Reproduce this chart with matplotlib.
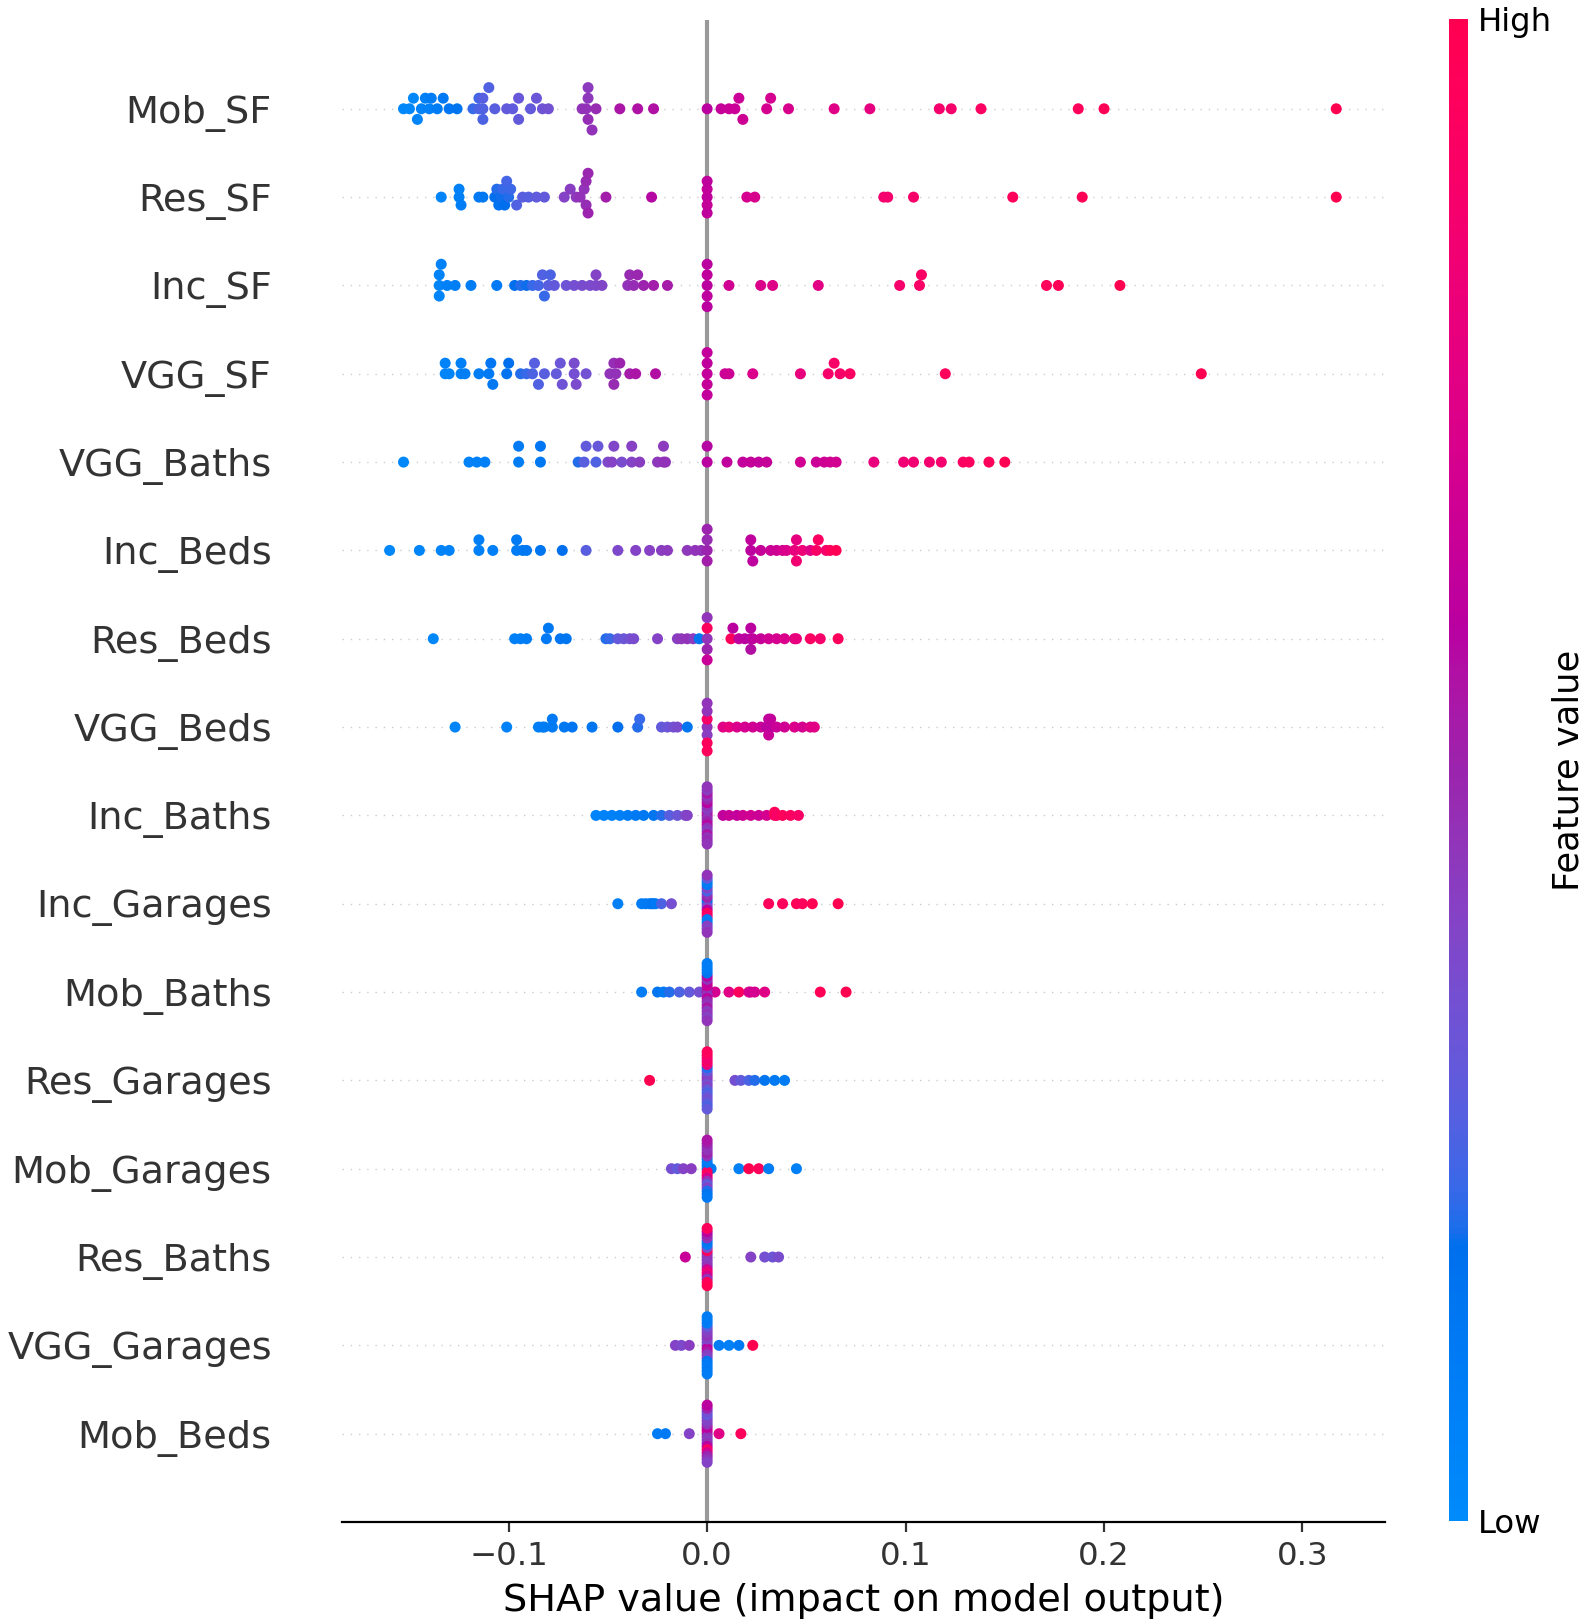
import numpy as np
import matplotlib
matplotlib.use("Agg")
import matplotlib.pyplot as plt
from matplotlib.colors import LinearSegmentedColormap
from matplotlib import cm

# Feature order, top row first
features = ["Mob_SF", "Res_SF", "Inc_SF", "VGG_SF", "VGG_Baths", "Inc_Beds",
            "Res_Beds", "VGG_Beds", "Inc_Baths", "Inc_Garages", "Mob_Baths",
            "Res_Garages", "Mob_Garages", "Res_Baths", "VGG_Garages", "Mob_Beds"]

# SHAP values (off the zero column) and their normalised feature values
mob_sf_shap = [-0.153, -0.150, -0.148, -0.146, -0.144, -0.142, -0.140, -0.139,
               -0.136, -0.133, -0.130, -0.126,
               -0.118, -0.115, -0.115, -0.113, -0.113, -0.113, -0.110, -0.107,
               -0.101, -0.098, -0.095, -0.095, -0.089, -0.086, -0.083, -0.080,
               -0.063, -0.061, -0.060, -0.060, -0.060, -0.058, -0.056,
               -0.044, -0.035, -0.027,
               0.000, 0.007, 0.011, 0.014, 0.016, 0.018, 0.030, 0.032, 0.041,
               0.064, 0.082, 0.117, 0.123, 0.138, 0.187, 0.200, 0.317]
mob_sf_feat = [0.02, 0.03, 0.02, 0.05, 0.06, 0.08, 0.07, 0.10,
               0.10, 0.12, 0.14, 0.15,
               0.22, 0.25, 0.24, 0.26, 0.27, 0.25, 0.26, 0.28,
               0.30, 0.29, 0.31, 0.30, 0.30, 0.32, 0.33, 0.34,
               0.45, 0.46, 0.44, 0.47, 0.43, 0.46, 0.48,
               0.55, 0.56, 0.56,
               0.60, 0.64, 0.65, 0.66, 0.66, 0.67, 0.70, 0.70, 0.71,
               0.75, 0.78, 0.88, 0.88, 0.92, 0.96, 0.97, 1.00]
mob_sf_zero = []

res_sf_shap = [-0.134, -0.125, -0.125, -0.124, -0.115, -0.113,
               -0.107, -0.106, -0.105, -0.104, -0.103, -0.102, -0.101, -0.100, -0.099,
               -0.096, -0.093, -0.090, -0.086, -0.082,
               -0.072, -0.069, -0.066, -0.064, -0.062, -0.061, -0.061, -0.060, -0.060,
               -0.051, -0.028,
               0.020, 0.024, 0.089, 0.091, 0.104, 0.154, 0.189, 0.317]
res_sf_feat = [0.05, 0.08, 0.07, 0.09, 0.12, 0.13,
               0.18, 0.20, 0.16, 0.19, 0.22, 0.18, 0.24, 0.20, 0.23,
               0.26, 0.28, 0.27, 0.29, 0.30,
               0.40, 0.42, 0.44, 0.46, 0.45, 0.47, 0.48, 0.50, 0.49,
               0.52, 0.58,
               0.70, 0.71, 0.86, 0.87, 0.89, 0.95, 0.97, 1.00]
res_sf_zero = [0.62, 0.63, 0.62, 0.64, 0.62]

inc_sf_shap = [-0.135, -0.135, -0.135, -0.134, -0.131, -0.127, -0.119, -0.106,
               -0.097, -0.094, -0.091, -0.088, -0.085, -0.083, -0.082, -0.080, -0.079, -0.077,
               -0.071, -0.067, -0.063, -0.059, -0.056, -0.056, -0.053,
               -0.040, -0.039, -0.037, -0.035, -0.032, -0.027, -0.020,
               0.011, 0.027, 0.033, 0.056, 0.097, 0.107, 0.108, 0.171, 0.177, 0.208]
inc_sf_feat = [0.04, 0.06, 0.05, 0.07, 0.08, 0.09, 0.10, 0.12,
               0.18, 0.20, 0.19, 0.22, 0.24, 0.26, 0.22, 0.28, 0.25, 0.30,
               0.33, 0.35, 0.36, 0.37, 0.38, 0.40, 0.39,
               0.46, 0.48, 0.47, 0.49, 0.50, 0.52, 0.53,
               0.68, 0.73, 0.74, 0.76, 0.88, 0.90, 0.91, 0.96, 0.97, 1.00]
inc_sf_zero = [0.60, 0.62, 0.60, 0.61, 0.60]

vgg_sf_shap = [-0.132, -0.132, -0.130, -0.124, -0.124, -0.122, -0.115, -0.110, -0.109, -0.108,
               -0.101, -0.100, -0.094, -0.091, -0.088, -0.087, -0.085, -0.082,
               -0.076, -0.074, -0.073, -0.067, -0.067, -0.066, -0.061,
               -0.049, -0.047, -0.047, -0.046, -0.044, -0.039, -0.036, -0.026,
               0.009, 0.011, 0.023, 0.047, 0.061, 0.064, 0.067, 0.072, 0.120, 0.249]
vgg_sf_feat = [0.04, 0.06, 0.05, 0.07, 0.08, 0.09, 0.10, 0.12, 0.14, 0.13,
               0.16, 0.18, 0.20, 0.22, 0.25, 0.27, 0.26, 0.28,
               0.30, 0.32, 0.33, 0.35, 0.36, 0.37, 0.34,
               0.45, 0.47, 0.48, 0.46, 0.50, 0.53, 0.55, 0.57,
               0.66, 0.67, 0.72, 0.80, 0.88, 0.90, 0.89, 0.92, 0.96, 1.00]
vgg_sf_zero = [0.63, 0.62, 0.63, 0.64, 0.63]

vgg_baths_shap = [-0.153, -0.120, -0.116, -0.112, -0.095, -0.095, -0.084, -0.084,
                  -0.065, -0.062, -0.061, -0.056, -0.055, -0.050, -0.048, -0.047,
                  -0.043, -0.038, -0.038, -0.034, -0.025, -0.022, -0.022, -0.021,
                  0.010, 0.018, 0.022, 0.026, 0.030, 0.047, 0.055, 0.059, 0.062, 0.065,
                  0.084, 0.099, 0.104, 0.112, 0.118, 0.129, 0.132, 0.142, 0.150]
vgg_baths_feat = [0.03, 0.06, 0.07, 0.08, 0.10, 0.11, 0.13, 0.14,
                  0.20, 0.28, 0.30, 0.26, 0.31, 0.38, 0.40, 0.39,
                  0.36, 0.40, 0.41, 0.42, 0.44, 0.45, 0.43, 0.46,
                  0.62, 0.63, 0.64, 0.63, 0.64, 0.68, 0.66, 0.67, 0.68, 0.69,
                  0.80, 0.84, 0.85, 0.86, 0.87, 0.92, 0.93, 0.96, 0.98]
vgg_baths_zero = [0.58, 0.60]

inc_beds_shap = [-0.160, -0.145, -0.134, -0.130, -0.115, -0.115, -0.108, -0.096, -0.096,
                 -0.093, -0.091, -0.084, -0.073, -0.061,
                 -0.045, -0.036, -0.029, -0.023, -0.020, -0.010, -0.006, -0.003,
                 0.022, 0.022, 0.023, 0.027, 0.032, 0.035, 0.038, 0.040, 0.044,
                 0.045, 0.045, 0.048, 0.052, 0.055, 0.056, 0.060, 0.062, 0.065]
inc_beds_feat = [0.02, 0.04, 0.05, 0.06, 0.08, 0.09, 0.08, 0.10, 0.11,
                 0.12, 0.13, 0.15, 0.18, 0.28,
                 0.38, 0.40, 0.41, 0.42, 0.43, 0.44, 0.45, 0.46,
                 0.60, 0.62, 0.61, 0.64, 0.66, 0.67, 0.70, 0.72, 0.80,
                 0.78, 0.85, 0.82, 0.75, 0.90, 0.92, 0.88, 0.95, 0.98]
inc_beds_zero = [0.50, 0.48, 0.50, 0.52]

res_beds_shap = [-0.138, -0.097, -0.094, -0.091, -0.081, -0.080, -0.074, -0.071, -0.051, -0.049,
                 -0.045, -0.042, -0.039, -0.037, -0.025, -0.015, -0.013, -0.010, -0.007, -0.004,
                 0.012, 0.013, 0.016, 0.019, 0.022, 0.022, 0.022, 0.023, 0.027,
                 0.031, 0.035, 0.039, 0.044, 0.045, 0.052, 0.057, 0.066]
res_beds_feat = [0.03, 0.08, 0.09, 0.10, 0.12, 0.13, 0.14, 0.15, 0.20, 0.22,
                 0.30, 0.32, 0.34, 0.36, 0.40, 0.42, 0.44, 0.45, 0.43, 0.15,
                 0.95, 0.60, 0.62, 0.60, 0.58, 0.60, 0.57, 0.62, 0.64,
                 0.68, 0.70, 0.72, 0.75, 0.80, 0.92, 0.88, 0.95]
res_beds_zero = [0.45, 0.95, 0.45, 0.50, 0.65]

vgg_beds_shap = [-0.127, -0.101, -0.085, -0.083, -0.082, -0.078, -0.078, -0.072, -0.068,
                 -0.058, -0.045, -0.035, -0.034, -0.023, -0.020, -0.017, -0.015, -0.010,
                 0.008, 0.011, 0.015, 0.019, 0.023, 0.027, 0.030, 0.031, 0.031,
                 0.032, 0.032, 0.035, 0.039, 0.044, 0.048, 0.052, 0.054]
vgg_beds_feat = [0.04, 0.06, 0.08, 0.09, 0.10, 0.11, 0.12, 0.13, 0.14,
                 0.15, 0.18, 0.20, 0.22, 0.30, 0.32, 0.34, 0.36, 0.15,
                 0.75, 0.80, 0.72, 0.70, 0.68, 0.66, 0.60, 0.62, 0.65,
                 0.61, 0.63, 0.66, 0.68, 0.72, 0.70, 0.74, 0.76]
vgg_beds_zero = [0.45, 0.45, 0.90, 0.45, 0.42, 0.95, 0.95]

inc_baths_shap = [-0.056, -0.052, -0.048, -0.044, -0.040, -0.036, -0.032, -0.027,
                  -0.023, -0.019, -0.015, -0.011, -0.010,
                  0.008, 0.011, 0.015, 0.018, 0.022, 0.026, 0.030, 0.034, 0.034,
                  0.035, 0.038, 0.042, 0.046]
inc_baths_feat = [0.05, 0.06, 0.07, 0.08, 0.10, 0.12, 0.13, 0.15,
                  0.20, 0.28, 0.32, 0.38, 0.40,
                  0.62, 0.65, 0.63, 0.67, 0.68, 0.66, 0.70, 0.92, 0.95,
                  0.90, 0.96, 0.93, 0.90]
inc_baths_zero = [0.45, 0.42, 0.55, 0.45, 0.50, 0.60, 0.45, 0.42, 0.55, 0.62,
                  0.45, 0.50, 0.58, 0.45, 0.42, 0.55, 0.45, 0.48, 0.45]

inc_garages_shap = [-0.045, -0.033, -0.031, -0.029, -0.028, -0.027, -0.026, -0.023, -0.018,
                    0.031, 0.038, 0.045, 0.048, 0.053, 0.066]
inc_garages_feat = [0.08, 0.10, 0.12, 0.11, 0.13, 0.14, 0.12, 0.25, 0.35,
                    0.95, 0.96, 0.97, 0.95, 0.98, 1.00]
inc_garages_zero = [0.45, 0.30, 0.10, 0.12, 0.40, 0.25, 0.45, 0.50, 0.15, 0.40,
                    0.35, 0.60, 0.95, 0.90, 0.10, 0.12, 0.42, 0.40, 0.45]

mob_baths_shap = [-0.033, -0.025, -0.022, -0.019, -0.014, -0.009, -0.004,
                  0.004, 0.011, 0.016, 0.021, 0.022, 0.024, 0.029, 0.057, 0.070]
mob_baths_feat = [0.10, 0.15, 0.12, 0.20, 0.25, 0.30, 0.35,
                  0.70, 0.75, 0.95, 0.72, 0.68, 0.70, 0.75, 0.97, 1.00]
mob_baths_zero = [0.10, 0.10, 0.12, 0.15, 0.60, 0.45, 0.62, 0.65, 0.50, 0.60,
                  0.45, 0.60, 0.48, 0.45, 0.55, 0.42, 0.45, 0.40, 0.45]

res_garages_shap = [-0.029, 0.014, 0.017, 0.021, 0.024, 0.029, 0.034, 0.039]
res_garages_feat = [1.00, 0.35, 0.30, 0.25, 0.20, 0.15, 0.12, 0.10]
res_garages_zero = [0.95, 0.90, 0.85, 0.90, 0.80, 0.20, 0.30, 0.40, 0.45, 0.42,
                    0.35, 0.40, 0.30, 0.25, 0.30, 0.35, 0.30, 0.25, 0.30]

mob_garages_shap = [-0.018, -0.015, -0.012, -0.008, 0.002, 0.016, 0.021, 0.026, 0.031, 0.045]
mob_garages_feat = [0.35, 0.30, 0.40, 0.42, 0.10, 0.08, 1.00, 0.95, 0.10, 0.08]
mob_garages_zero = [0.55, 0.50, 0.45, 0.45, 0.50, 0.45, 0.10, 0.12, 0.10, 0.15,
                    0.90, 0.95, 0.70, 0.45, 0.30, 0.40, 0.20, 0.15, 0.12]

res_baths_shap = [-0.011, 0.022, 0.029, 0.033, 0.036]
res_baths_feat = [0.65, 0.40, 0.35, 0.33, 0.36]
res_baths_zero = [0.95, 0.60, 0.50, 0.45, 0.15, 0.12, 0.35, 0.95, 0.45, 0.40,
                  0.45, 0.42, 0.45, 0.70, 0.85, 0.70, 0.45, 0.95, 1.00]

vgg_garages_shap = [-0.016, -0.013, -0.009, 0.006, 0.011, 0.016, 0.023]
vgg_garages_feat = [0.40, 0.38, 0.42, 0.10, 0.08, 0.12, 1.00]
vgg_garages_zero = [0.10, 0.12, 0.10, 0.30, 0.40, 0.42, 0.45, 0.40, 0.35, 0.45,
                    0.60, 0.55, 0.42, 0.40, 0.15, 0.12, 0.10, 0.12, 0.10]

mob_beds_shap = [-0.025, -0.021, -0.009, 0.006, 0.017]
mob_beds_feat = [0.10, 0.12, 0.40, 0.75, 0.95]
mob_beds_zero = [0.60, 0.50, 0.35, 0.30, 0.40, 0.40, 0.45, 0.60, 0.65, 0.50,
                 0.45, 0.42, 0.45, 0.60, 0.90, 0.70, 0.50, 0.45, 0.40]

rows = [
    (mob_sf_shap, mob_sf_feat, mob_sf_zero),
    (res_sf_shap, res_sf_feat, res_sf_zero),
    (inc_sf_shap, inc_sf_feat, inc_sf_zero),
    (vgg_sf_shap, vgg_sf_feat, vgg_sf_zero),
    (vgg_baths_shap, vgg_baths_feat, vgg_baths_zero),
    (inc_beds_shap, inc_beds_feat, inc_beds_zero),
    (res_beds_shap, res_beds_feat, res_beds_zero),
    (vgg_beds_shap, vgg_beds_feat, vgg_beds_zero),
    (inc_baths_shap, inc_baths_feat, inc_baths_zero),
    (inc_garages_shap, inc_garages_feat, inc_garages_zero),
    (mob_baths_shap, mob_baths_feat, mob_baths_zero),
    (res_garages_shap, res_garages_feat, res_garages_zero),
    (mob_garages_shap, mob_garages_feat, mob_garages_zero),
    (res_baths_shap, res_baths_feat, res_baths_zero),
    (vgg_garages_shap, vgg_garages_feat, vgg_garages_zero),
    (mob_beds_shap, mob_beds_feat, mob_beds_zero),
]


# shap's red_blue colormap, built in LCH space
def lch2rgb(l, c, h):
    a, b = c * np.cos(h), c * np.sin(h)
    fy = (l + 16.0) / 116.0
    fx = fy + a / 500.0
    fz = fy - b / 200.0
    def finv(t):
        return t ** 3 if t > 6.0 / 29.0 else 3 * (6.0 / 29.0) ** 2 * (t - 4.0 / 29.0)
    xyz = np.array([0.95047 * finv(fx), 1.0 * finv(fy), 1.08883 * max(finv(fz), 0)])
    m = np.array([[0.412453, 0.357580, 0.180423],
                  [0.212671, 0.715160, 0.072169],
                  [0.019334, 0.119193, 0.950227]])
    rgb = np.linalg.inv(m) @ xyz
    rgb = np.where(rgb > 0.0031308, 1.055 * np.abs(rgb) ** (1 / 2.4) - 0.055, 12.92 * rgb)
    return np.clip(rgb, 0, 1)


blue_lch = [54.0, 70.0, 4.6588]
red_lch = [54.0, 90.0, 0.35470565 + 2 * np.pi]
nsteps = 100
l_vals = list(np.linspace(blue_lch[0], 40.0, nsteps // 2)) + list(np.linspace(40.0, red_lch[0], nsteps // 2))
c_vals = np.linspace(blue_lch[1], red_lch[1], nsteps)
h_vals = np.linspace(blue_lch[2], red_lch[2], nsteps)
red_blue = LinearSegmentedColormap.from_list(
    "red_blue", [lch2rgb(l, c, h) for l, c, h in zip(l_vals, c_vals, h_vals)])


# zero column: colours are given top to bottom, put them in layer order
def column_order(top_to_bottom):
    n = len(top_to_bottom)
    offs = np.array([np.ceil(j / 2) * ((j % 2) * 2 - 1) for j in range(n)])
    rank = np.argsort(-offs, kind="stable")
    out = [0.0] * n
    for r, j in enumerate(rank):
        out[j] = top_to_bottom[r]
    return out


# beeswarm offsets as in shap's summary plot
def swarm(shaps, row_height=0.4, nbins=100):
    quant = np.round(nbins * (shaps - shaps.min()) / (shaps.max() - shaps.min() + 1e-8))
    ys = np.zeros(len(shaps))
    layer, last_bin = 0, -1
    for ind in np.argsort(quant, kind="stable"):
        if quant[ind] != last_bin:
            layer = 0
        ys[ind] = np.ceil(layer / 2) * ((layer % 2) * 2 - 1)
        layer += 1
        last_bin = quant[ind]
    ys *= 0.9 * (row_height / np.max(ys + 1))
    return ys


dpi = 198
fs = 1.07  # text in the reference is a bit larger than shap's defaults
fig = plt.figure(figsize=(1584 / dpi, 1624 / dpi), dpi=dpi)
ax = fig.add_axes([0.2159, 0.0628, 0.6585, 0.9246])
axis_color = "#333333"
n = len(features)

ax.axvline(x=0, color="#999999", zorder=-1)
for i, (sh, fv, zc) in enumerate(rows):
    pos = n - 1 - i
    ax.axhline(y=pos, color="#cccccc", lw=0.5, dashes=(1, 5), zorder=-1)
    shaps = np.array(list(sh) + [0.0] * len(zc))
    cvals = np.array(list(fv) + column_order(zc))
    ys = swarm(shaps)
    ax.scatter(shaps, pos + ys, c=cvals, cmap=red_blue, vmin=0, vmax=1,
               s=16, linewidth=0, zorder=3)

ax.set_xlim(-0.184, 0.3416)
ax.set_ylim(-1, n)
ax.set_yticks(range(n))
ax.set_yticklabels(features[::-1], fontsize=13 * fs)
ax.set_xticks([-0.1, 0.0, 0.1, 0.2, 0.3])
ax.tick_params(axis="x", labelsize=11 * fs, color=axis_color, labelcolor=axis_color)
ax.tick_params(axis="y", length=0, pad=25.5, labelcolor=axis_color)
ax.xaxis.set_ticks_position("bottom")
for side in ["right", "top", "left"]:
    ax.spines[side].set_visible(False)
ax.set_xlabel("SHAP value (impact on model output)", fontsize=13 * fs)

cax = fig.add_axes([0.9148, 0.0634, 0.012, 0.9249])
m = cm.ScalarMappable(cmap=red_blue)
m.set_array([0, 1])
cb = fig.colorbar(m, cax=cax, ticks=[0, 1])
cb.set_ticklabels(["Low", "High"])
cb.set_label("Feature value", size=12 * fs, labelpad=0)
cb.ax.tick_params(labelsize=11 * fs, length=0)
cb.outline.set_visible(False)

fig.savefig("out.png", dpi=dpi)
